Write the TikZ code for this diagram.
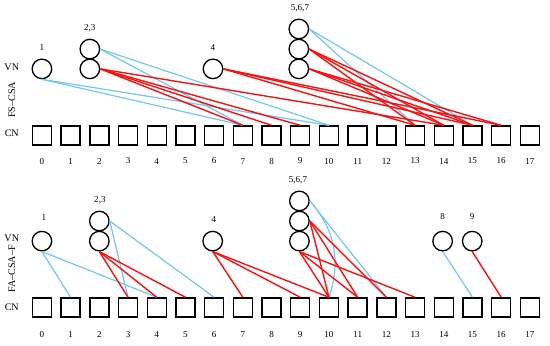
\documentclass[tikz,border=0pt]{standalone}
\usepackage{fontspec}
\setmainfont{Liberation Serif}
\usepackage{xcolor}
\definecolor{edgeBlue}{HTML}{74C6F0}
\definecolor{edgeRed}{HTML}{F51414}
\usepackage{tikz}

\tikzset{
  vnode/.style={circle, draw, line width=1.3pt, minimum size=0.68cm, inner sep=0pt},
  cnode/.style={rectangle, draw, line width=1.4pt, minimum size=0.66cm, inner sep=0pt},
  blueEdge/.style={edgeBlue, line width=1.2pt},
  redEdge/.style={edgeRed, line width=1.4pt},
}

\begin{document}
\begin{tikzpicture}
  \useasboundingbox (-1.46,0) rectangle (17.70,12.02);
  % ------- FS--CSA -------
  \begin{scope}
    \foreach \i in {0,...,17} {
      \node[cnode] (tc\i) at (\i,7.30) {};
      \node (tn\i) at (\i,6.41) {\small\i};
    }
    \node (tvn) at (-1.05,9.69) {VN};
    \node[rotate=90] (tname) at (-1.05,8.54) {FS--CSA};
    \node (tcn) at (-1.05,7.39) {CN};
    \node[vnode] (tv1) at (0,9.62) {};
    \node[vnode] (tv2) at (1.67,10.31) {};
    \node[vnode] (tv3) at (1.67,9.62) {};
    \node[vnode] (tv4) at (5.96,9.62) {};
    \node[vnode] (tv5) at (8.95,11.01) {};
    \node[vnode] (tv6) at (8.95,10.31) {};
    \node[vnode] (tv7) at (8.95,9.62) {};
    \node (tl1) at (0,10.38) {\small 1};
    \node (tl23) at (1.67,11.05) {\small 2,3};
    \node (tl4) at (5.96,10.38) {\small 4};
    \node (tl567) at (8.99,11.74) {\small 5,6,7};
    % edges
    \foreach \v/\c in {tv1.south/7,tv1.south/10,tv2.east/7,tv2.east/10,tv5.east/13,tv5.east/15}
      \draw[blueEdge] (\v) -- (tc\c.north);
    \foreach \v/\c in {tv3.east/7,tv3.east/8,tv3.east/9,tv3.east/14,tv4.east/13,tv4.east/15,tv4.east/16,
                       tv6.east/13,tv6.east/14,tv6.east/15,tv7.east/14,tv7.east/15,tv7.east/16}
      \draw[redEdge] (\v) -- (tc\c.north);
  \end{scope}
  % ------- FA--CSA--F -------
  \begin{scope}
    \foreach \i in {0,...,17} {
      \node[cnode] (bc\i) at (\i,1.31) {};
      \node (bn\i) at (\i,0.35) {\small\i};
    }
    \node (bvn) at (-1.05,3.73) {VN};
    \node[rotate=90] (bname) at (-1.05,2.65) {FA--CSA--F};
    \node (bcn) at (-1.05,1.32) {CN};
    \node[vnode] (bv1) at (0,3.62) {};
    \node[vnode] (bv2) at (2,4.32) {};
    \node[vnode] (bv3) at (2,3.62) {};
    \node[vnode] (bv4) at (5.95,3.62) {};
    \node[vnode] (bv5) at (8.97,5.02) {};
    \node[vnode] (bv6) at (8.97,4.32) {};
    \node[vnode] (bv7) at (8.97,3.62) {};
    \node[vnode] (bv8) at (13.96,3.62) {};
    \node[vnode] (bv9) at (14.99,3.62) {};
    \node (bl1) at (0.07,4.46) {\small 1};
    \node (bl23) at (2.02,5.05) {\small 2,3};
    \node (bl4) at (5.99,4.39) {\small 4};
    \node (bl567) at (8.92,5.75) {\small 5,6,7};
    \node (bl8) at (13.96,4.46) {\small 8};
    \node (bl9) at (14.99,4.46) {\small 9};
    % edges
    \foreach \v/\c in {bv1.south/1,bv1.south/4,bv2.east/3,bv2.east/6,bv5.east/12,bv8.south/15}
      \draw[blueEdge] (\v) -- (bc\c.north);
    \draw[blueEdge] (bv5.east) to[bend left=30] (bc10.north);
    \foreach \v/\c in {bv3.south/3,bv3.south/4,bv3.south/5,bv4.south/7,bv4.south/9,bv4.south/10,
                       bv6.east/10,bv6.east/11,bv6.east/12,bv7.south/10,bv7.south/11,bv7.south/13,bv9.south/16}
      \draw[redEdge] (\v) -- (bc\c.north);
  \end{scope}
\end{tikzpicture}
\end{document}
